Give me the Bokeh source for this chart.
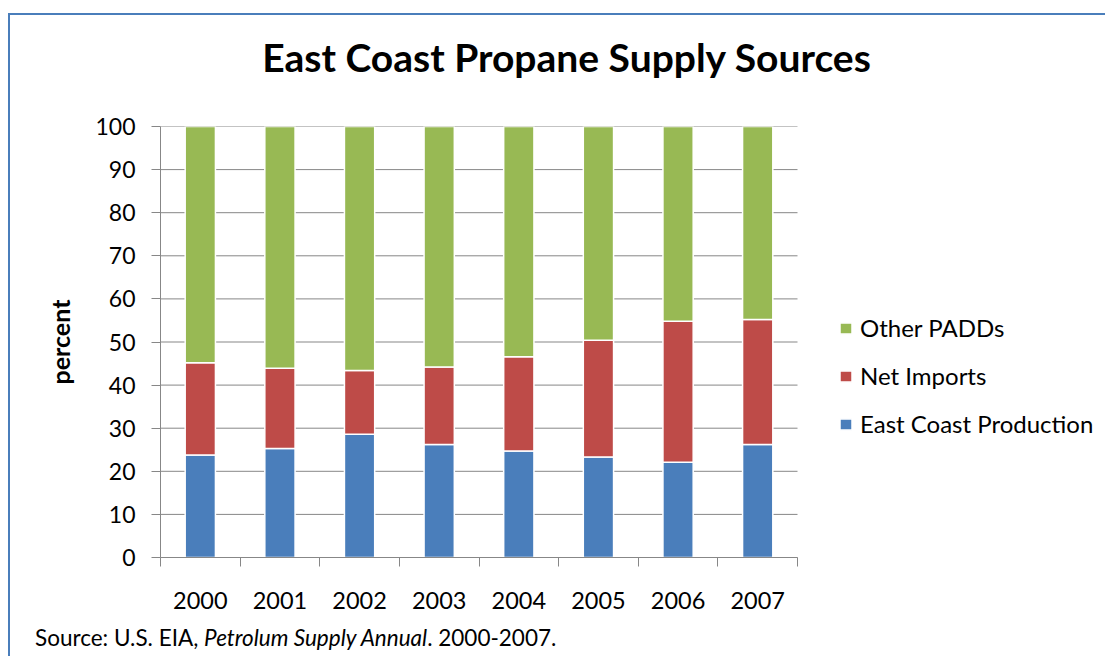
from bokeh.plotting import figure
from bokeh.layouts import column
from bokeh.models import (Range1d, FixedTicker, Legend, LegendItem, ColumnDataSource, Div)
from bokeh.embed import file_html
from bokeh.resources import INLINE

years = ["2000", "2001", "2002", "2003", "2004", "2005", "2006", "2007"]
east_coast_production = [23.8, 25.3, 28.6, 26.2, 24.7, 23.3, 22.1, 26.2]
net_imports = [21.4, 18.6, 14.8, 18.0, 21.9, 27.1, 32.7, 29.0]
other_padds = [54.8, 56.1, 56.6, 55.8, 53.4, 49.6, 45.2, 44.8]
y_ticks = [0, 10, 20, 30, 40, 50, 60, 70, 80, 90, 100]

series_names = ["East Coast Production", "Net Imports", "Other PADDs"]
series_colors = ["#4A7EBB", "#BE4B48", "#98B954"]
title_text = "East Coast Propane Supply Sources"
source_parts = ["Source: U.S. EIA, ", "Petrolum Supply Annual", ". 2000-2007."]

FONT = "Lato"
GRAY = "#878787"

n = len(years)
x_pos = [i + 0.5 for i in range(n)]          # category centres
x_edges = list(range(n + 1))                   # category boundaries
FRAME_W = 947                                  # frame runs under the legend too
CAT_W = 637 / n                                # pixel width of one category
x_end = FRAME_W / CAT_W

source = ColumnDataSource(data=dict(x=x_pos, year=years, prod=east_coast_production,
                                    imp=net_imports, other=other_padds))

p = figure(width=1097, height=527, x_range=Range1d(0, x_end), y_range=Range1d(0, 100),
           output_backend="svg", toolbar_location=None,
           min_border_left=150, min_border_right=0, min_border_top=25, min_border_bottom=71)
p.outline_line_color = None
p.background_fill_color = "white"
p.border_fill_color = "white"
p.xgrid.visible = False
p.ygrid.visible = False

# y axis
p.yaxis.ticker = FixedTicker(ticks=y_ticks)
p.yaxis.axis_line_color = GRAY
p.yaxis.major_tick_line_color = GRAY
p.yaxis.major_tick_out = 9
p.yaxis.major_tick_in = 0
p.yaxis.minor_tick_line_color = None
p.yaxis.major_label_standoff = 16
p.yaxis.major_label_text_font = FONT
p.yaxis.major_label_text_font_size = "23px"
p.yaxis.major_label_text_color = "black"
p.yaxis.axis_label = "percent"
p.yaxis.axis_label_text_font = FONT
p.yaxis.axis_label_text_font_style = "bold"
p.yaxis.axis_label_text_font_size = "25px"
p.yaxis.axis_label_text_color = "black"
p.yaxis.axis_label_standoff = 17

# x axis: year labels at centres, tick marks at boundaries
xa = p.xaxis[0]
xa.ticker = FixedTicker(ticks=x_pos, minor_ticks=x_edges)
xa.major_label_overrides = {x: y for x, y in zip(x_pos, years)}
xa.bounds = (0, n)
xa.axis_line_color = GRAY
xa.major_tick_line_color = None
xa.major_tick_out = 9
xa.major_tick_in = 0
xa.minor_tick_line_color = GRAY
xa.minor_tick_out = 9
xa.minor_tick_in = 0
xa.major_label_standoff = 25
xa.major_label_text_font = FONT
xa.major_label_text_font_size = "23.5px"
xa.major_label_text_color = "black"

# horizontal gridlines limited to the category area
p.segment(x0=0, x1=n, y0=y_ticks, y1=y_ticks, line_color=GRAY, line_width=1)

renderers = p.vbar_stack(["prod", "imp", "other"], x="x", width=0.38, source=source,
                         fill_color=series_colors, line_color="white", line_width=1.5)

legend = Legend(items=[LegendItem(label=series_names[2], renderers=[renderers[2]]),
                       LegendItem(label=series_names[1], renderers=[renderers[1]]),
                       LegendItem(label=series_names[0], renderers=[renderers[0]])],
                location=(678, 119), orientation="vertical", border_line_color=None,
                background_fill_alpha=0, padding=0, margin=0, glyph_width=15, glyph_height=14,
                label_standoff=7, spacing=19, label_height=24,
                label_text_font=FONT, label_text_font_size="24px", label_text_color="black")
p.add_layout(legend, "center")

title_div = Div(width=1097, height=86, margin=0,
                text=('<div style="width:1097px; font-family:Lato; font-weight:bold; font-size:39px; '
                      'line-height:39px; padding-top:23px; text-align:center; position:relative; '
                      'left:8px; color:black; white-space:nowrap">' + title_text + '</div>'))
source_div = Div(width=1097, height=30, margin=0,
                 text=('<div style="font-family:Lato; font-size:22.5px; line-height:19px; '
                       'padding-top:0px; padding-left:25px; color:black; white-space:nowrap">'
                       + source_parts[0] + '<i>' + source_parts[1] + '</i>' + source_parts[2]
                       + '</div>'))

layout = column(title_div, p, source_div, spacing=0)
layout.styles = {"margin-left": "10px", "margin-top": "15px",
                 "box-shadow": "-2px -2px 0 0 #4A7EBB"}

open("out.html", "w").write(file_html(layout, INLINE))
